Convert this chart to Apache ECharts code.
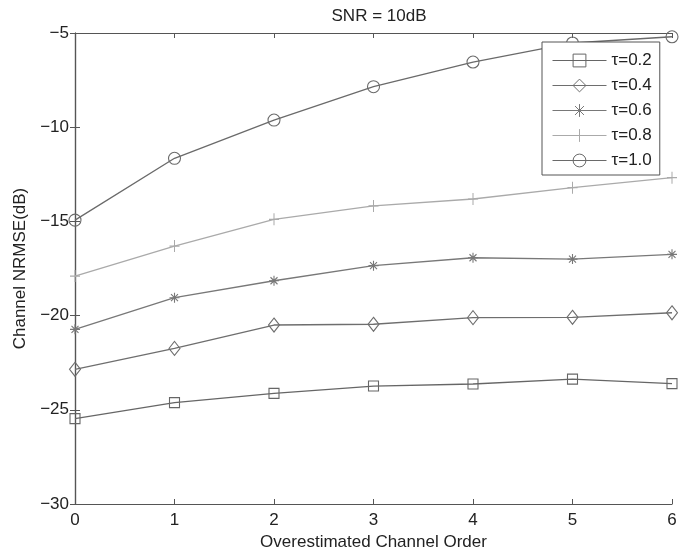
<!DOCTYPE html>
<html>
<head>
<meta charset="utf-8">
<script src="https://cdn.jsdelivr.net/npm/echarts@6/dist/echarts.min.js"></script>
<style>
html,body{margin:0;padding:0;background:#fff;}
#chart{width:692px;height:557px;}
</style>
</head>
<body>
<div id="chart"></div>
<script>
const orders = [0, 1, 2, 3, 4, 5, 6];
const tau02 = [-25.47, -24.62, -24.13, -23.74, -23.63, -23.37, -23.61];
const tau04 = [-22.85, -21.74, -20.50, -20.46, -20.11, -20.09, -19.85];
const tau06 = [-20.73, -19.05, -18.15, -17.35, -16.93, -17.00, -16.75];
const tau08 = [-17.90, -16.31, -14.89, -14.18, -13.81, -13.21, -12.68];
const tau10 = [-14.93, -11.65, -9.62, -7.85, -6.54, -5.53, -5.20];
const seriesNames = ['τ=0.2', 'τ=0.4', 'τ=0.6', 'τ=0.8', 'τ=1.0'];
const titleText = 'SNR = 10dB';
const xName = 'Overestimated Channel Order';
const yName = 'Channel NRMSE(dB)';

const FONT = '"Liberation Sans", Arial, sans-serif';
const AX = '#555';
const star = 'path://M-5,0L5,0M0,-5L0,5M-3.5,-3.5L3.5,3.5M-3.5,3.5L3.5,-3.5';
const plus = 'path://M-5,0L5,0M0,-6L0,6';

const styles = [
  {color: '#666', symbol: 'rect', size: 10},
  {color: '#6e6e6e', symbol: 'diamond', size: [11, 14]},
  {color: '#787878', symbol: star, size: 10},
  {color: '#aaaaaa', symbol: plus, size: [10, 12]},
  {color: '#6a6a6a', symbol: 'circle', size: 12}
];
const values = [tau02, tau04, tau06, tau08, tau10];

const series = values.map((vals, i) => ({
  name: seriesNames[i],
  type: 'line',
  data: orders.map((x, j) => [x, vals[j]]),
  symbol: styles[i].symbol,
  symbolSize: styles[i].size,
  showAllSymbol: true,
  clip: false,
  lineStyle: {color: styles[i].color, width: 1.3},
  itemStyle: {color: 'rgba(255,255,255,0)', borderColor: styles[i].color, borderWidth: 1.1},
  emphasis: {disabled: true},
  animation: false
}));

const minus = v => String(v).replace('-', '\u2212');

const chart = echarts.init(document.getElementById('chart'));
chart.setOption({
  backgroundColor: '#fff',
  animation: false,
  title: {
    text: titleText, left: 374, top: 3, textAlign: 'center',
    textStyle: {fontFamily: FONT, fontSize: 17, fontWeight: 'normal', color: '#222'}
  },
  grid: {left: 75, right: 20, top: 33, bottom: 53, containLabel: false},
  legend: {
    left: 542, top: 42, orient: 'vertical',
    itemWidth: 54, itemHeight: 16, itemGap: 8,
    padding: [10, 8, 6, 10],
    backgroundColor: '#fff', borderColor: '#555', borderWidth: 1,
    textStyle: {fontFamily: FONT, fontSize: 17, color: '#222'},
    lineStyle: {width: 1},
    itemStyle: {borderWidth: 1},
    data: seriesNames
  },
  xAxis: [{
    type: 'value', min: 0, max: 6, interval: 1, position: 'bottom',
    name: xName, nameLocation: 'middle', nameGap: 30,
    nameTextStyle: {fontFamily: FONT, fontSize: 17, color: '#222'},
    axisLine: {show: true, lineStyle: {color: AX, width: 1.2}},
    axisTick: {show: true, inside: true, length: 5, lineStyle: {color: AX}},
    axisLabel: {fontFamily: FONT, fontSize: 17, color: '#222', margin: 8},
    splitLine: {show: false}
  }, {
    type: 'value', min: 0, max: 6, interval: 1, position: 'top',
    axisLine: {show: true, lineStyle: {color: AX, width: 1.2}},
    axisTick: {show: true, inside: true, length: 5, lineStyle: {color: AX}},
    axisLabel: {show: false}, splitLine: {show: false}
  }],
  yAxis: [{
    type: 'value', min: -30, max: -5, interval: 5, position: 'left',
    name: yName, nameLocation: 'middle', nameGap: 46, nameRotate: 90,
    nameTextStyle: {fontFamily: FONT, fontSize: 17, color: '#222'},
    axisLine: {show: true, lineStyle: {color: AX, width: 1.2}},
    axisTick: {show: true, inside: true, length: 5, lineStyle: {color: AX}},
    axisLabel: {fontFamily: FONT, fontSize: 17, color: '#222', margin: 6, formatter: minus},
    splitLine: {show: false}
  }, {
    type: 'value', min: -30, max: -5, interval: 5, position: 'right',
    axisLine: {show: true, lineStyle: {color: AX, width: 1.2}},
    axisTick: {show: true, inside: true, length: 5, lineStyle: {color: AX}},
    axisLabel: {show: false}, splitLine: {show: false}
  }],
  series: series
});
</script>
</body>
</html>
